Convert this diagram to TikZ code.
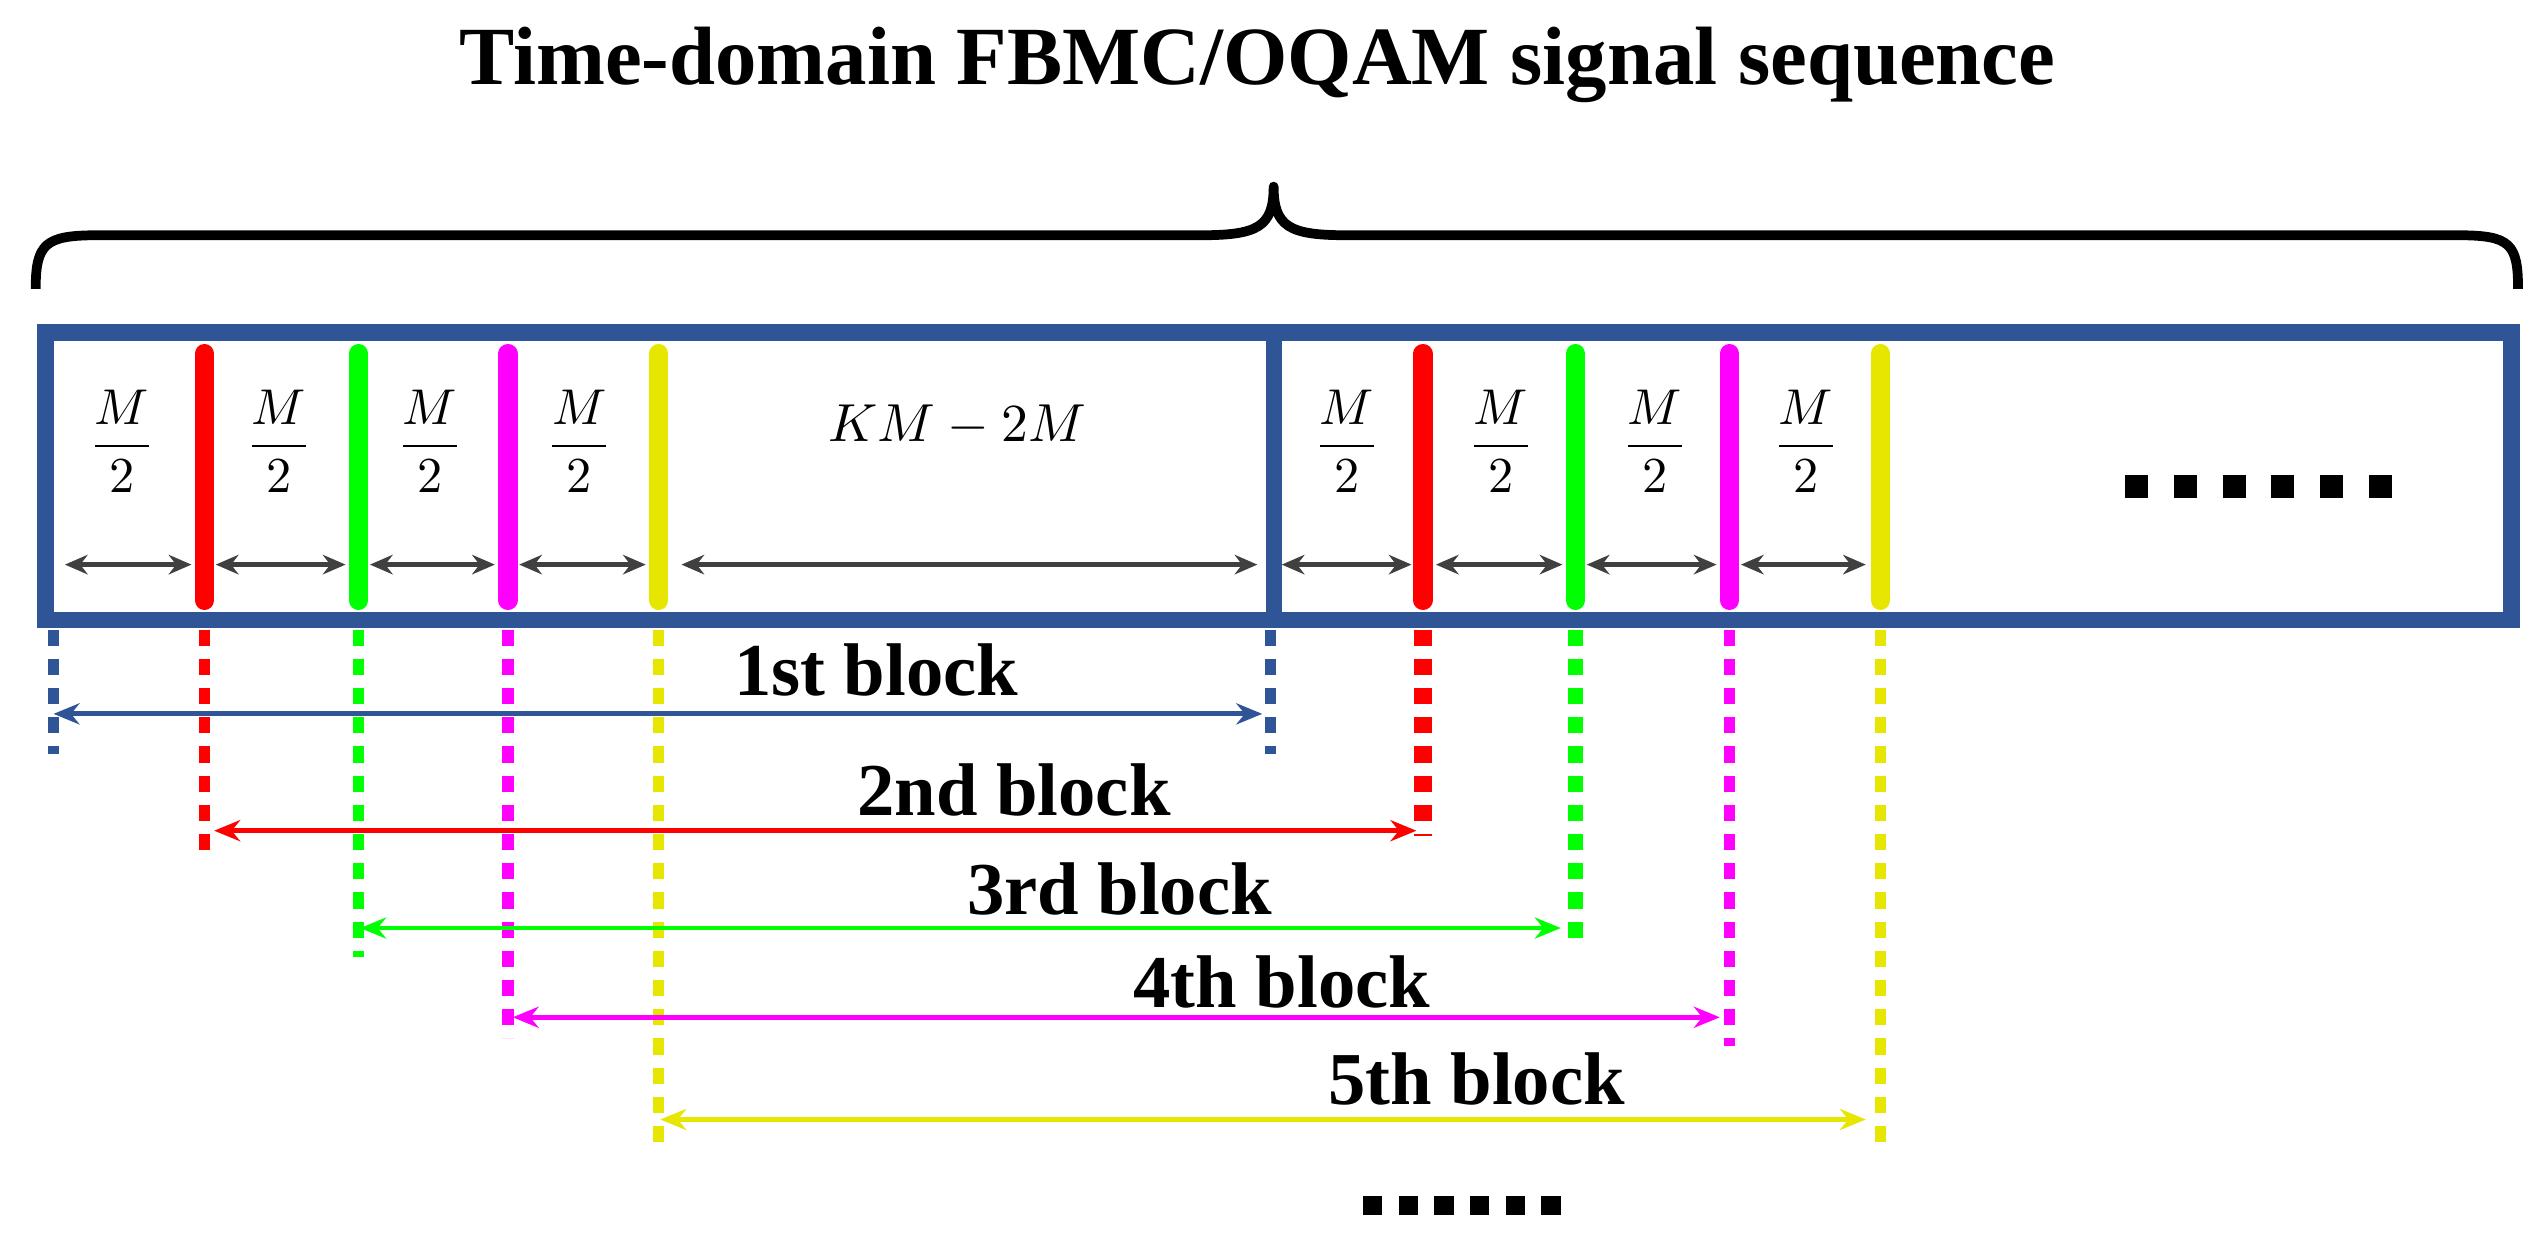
\documentclass[tikz,border=0pt]{standalone}
\usepackage{fontspec}
\setmainfont{Liberation Serif}
\usetikzlibrary{arrows.meta}
\definecolor{bblue}{HTML}{2F5597}
\definecolor{dgray}{HTML}{404040}
\definecolor{myred}{HTML}{FF0000}
\definecolor{mygreen}{HTML}{00FF00}
\definecolor{mymag}{HTML}{FF00FF}
\definecolor{myyel}{HTML}{E6E600}
\begin{document}
\begin{tikzpicture}[x=1pt,y=-1pt,
  bar/.style={line width=12pt,line cap=round},
  dot/.style={line width=7pt,dash pattern=on 10pt off 8pt},
  dim/.style={dgray,line width=3pt,{Stealth[length=14pt,width=12pt]}-{Stealth[length=14pt,width=12pt]}},
  blk/.style={line width=3pt,{Stealth[length=16pt,width=13pt]}-{Stealth[length=16pt,width=13pt]}},
  lab/.style={font=\fontsize{46}{50}\selectfont\bfseries},
  frac/.style={scale=3.1}]
\useasboundingbox (0,0) rectangle (1568,767);
\node[font=\fontsize{51}{56}\selectfont\bfseries] (title) at (775,40) {Time-domain FBMC/OQAM signal sequence};
% brace
\draw[line width=6pt,line join=round] (22,178) .. controls (22,150) and (28,145) .. (60,145) -- (740,145) .. controls (775,145) and (785,140) .. (785,115)
 .. controls (785,140) and (795,145) .. (830,145) -- (1515,145) .. controls (1547,145) and (1552,150) .. (1552,178);
% frame
\draw[bblue,line width=10pt] (28,205) rectangle (1548,382);
\draw[bblue,line width=10pt] (785,205) -- (785,382);
% bars
\foreach \x/\c in {126/myred,221/mygreen,313/mymag,406/myyel,877/myred,971/mygreen,1066/mymag,1159/myyel}
  \draw[bar,\c] (\x,218) -- (\x,370);
% fractions
\foreach \x [count=\i] in {75,172,265,357,830,925,1020,1113}
  \node[frac] (f\i) at (\x,272) {$\displaystyle\frac{M}{2}$};
\node[scale=3.3] (km) at (590,262) {$KM-2M$};
% dimension arrows
\foreach \a/\b in {40/118,133/213,228/305,320/398,420/775,790/870,885/963,978/1058,1073/1150}
  \draw[dim] (\a,348) -- (\b,348);
\foreach \i in {0,...,5} \fill (1310+\i*30,293) rectangle ++(14,14);
\foreach \i in {0,...,5} \fill (840+\i*22,737) rectangle ++(12,12);
% dotted verticals
\draw[dot,bblue] (33,388) -- (33,465);
\draw[dot,bblue] (783,388) -- (783,465);
\draw[dot,myred] (126,388) -- (126,525);
\draw[dot,myred,line width=11pt] (877,388) -- (877,515);
\draw[dot,mygreen] (221,388) -- (221,590);
\draw[dot,mygreen,line width=9pt] (971,388) -- (971,585);
\draw[dot,mymag] (313,388) -- (313,640);
\draw[dot,mymag] (1066,388) -- (1066,645);
\draw[dot,myyel] (406,388) -- (406,705);
\draw[dot,myyel] (1159,388) -- (1159,710);
% blocks
\draw[blk,bblue] (33,440) -- (778,440);
\node[lab] (l1) at (540,413) {1st block};
\draw[blk,myred] (132,512) -- (873,512);
\node[lab] (l2) at (625,487) {2nd block};
\draw[blk,mygreen] (222,572) -- (962,572);
\node[lab] (l3) at (690,548) {3rd block};
\draw[blk,mymag] (316,627) -- (1060,627);
\node[lab] (l4) at (790,605) {4th block};
\draw[blk,myyel] (407,690) -- (1150,690);
\node[lab] (l5) at (910,665) {5th block};
\end{tikzpicture}
\end{document}
